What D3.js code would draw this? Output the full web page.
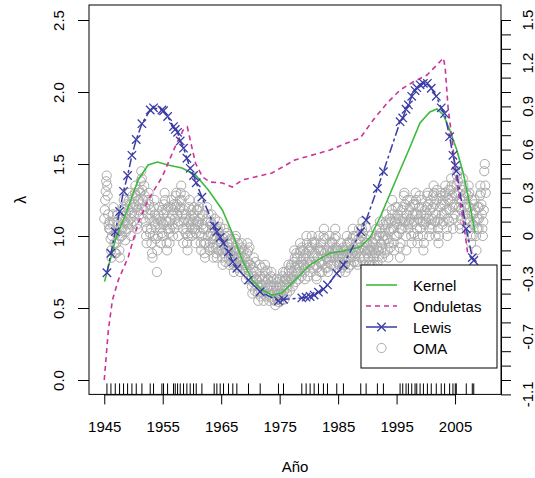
<!DOCTYPE html>
<html><head><meta charset="utf-8">
<script src="https://cdn.jsdelivr.net/npm/d3@7"></script>
<style>body{margin:0;background:#fff}svg{display:block}text{font-family:"Liberation Sans",Arial,Helvetica,sans-serif;fill:#000}</style>
</head><body><svg id="c" width="535" height="478"></svg>
<script>
// ---- data ----
const kernelYears  = [1945.05,1946.9,1949.1,1950.8,1952.5,1954.1,1955.9,1958.3,1960.6,1962.8,1965.2,1966.9,1968.6,1970.3,1972.0,1973.7,1975.4,1977.6,1980.2,1983.6,1985.9,1988.8,1990.5,1992.2,1995.1,1997.3,1999.0,2000.7,2001.9,2003.0,2004.1,2005.3,2006.4,2007.6,2008.4];
const kernelValues = [0.683,0.972,1.201,1.389,1.493,1.514,1.493,1.472,1.424,1.319,1.181,1.021,0.833,0.694,0.625,0.590,0.604,0.694,0.80,0.882,0.896,0.924,0.993,1.132,1.410,1.618,1.785,1.861,1.882,1.840,1.736,1.597,1.438,1.201,1.028];

const waveletYears  = [1945.0,1945.7,1946.4,1947.4,1949.1,1950.8,1952.5,1954.9,1957.1,1958.5,1959.2,1959.7,1960.6,1961.8,1963.1,1965.2,1966.9,1968.6,1970.8,1973.7,1977.6,1983.6,1986.5,1988.8,1991.0,1993.4,1995.6,1997.8,2000.2,2001.9,2003.0,2003.3,2003.8,2004.5,2005.0,2005.5,2006.4,2007.2];
const waveletValues = [0.0,0.347,0.556,0.694,0.854,1.090,1.250,1.410,1.618,1.736,1.757,1.667,1.507,1.410,1.375,1.368,1.340,1.389,1.410,1.438,1.528,1.597,1.646,1.681,1.806,1.924,2.014,2.069,2.118,2.188,2.236,2.174,1.896,1.667,1.479,1.319,1.111,0.868];

// event times (rug) and Lewis estimate at each
const eventTimes = [1945.46,1946.14,1946.88,1947.62,1948.30,1948.99,1949.73,1950.47,1951.44,1952.86,1953.43,1954.86,1955.14,1955.83,1956.85,1957.14,1957.54,1957.99,1958.56,1959.13,1959.70,1960.27,1960.73,1961.70,1963.80,1964.26,1964.83,1965.40,1966.25,1966.99,1967.68,1969.67,1971.67,1974.80,1975.66,1978.79,1979.53,1980.21,1980.90,1981.64,1982.49,1983.18,1984.77,1985.91,1988.87,1989.79,1991.72,1992.75,1995.60,1996.05,1996.62,1997.02,1997.59,1998.16,1998.45,1999.02,1999.59,2000.27,2000.93,2001.79,2002.64,2003.21,2004.07,2004.64,2005.04,2005.21,2006.92,2007.95,2008.2];
const lewisValues = [0.745,0.88,1.03,1.17,1.31,1.42,1.56,1.67,1.78,1.875,1.89,1.875,1.87,1.83,1.76,1.74,1.72,1.66,1.61,1.54,1.47,1.42,1.37,1.27,1.07,1.03,0.99,0.95,0.89,0.82,0.776,0.694,0.613,0.55,0.56,0.57,0.575,0.58,0.59,0.61,0.63,0.66,0.74,0.80,1.03,1.11,1.33,1.447,1.794,1.82,1.88,1.91,1.97,2.01,2.03,2.05,2.06,2.06,2.026,1.97,1.89,1.85,1.69,1.56,1.49,1.45,1.05,0.85,0.83];

// OMA monthly index, one row per year starting 1945
const omaStartYear = 1945;
const omaMonthly = [
[0.12,0.18,0.25,0.31,0.38,0.42,0.35,0.28,0.15,0.08,0.05,0.10],
[0.05,-0.02,-0.10,-0.15,0.00,0.08,0.15,0.20,0.10,-0.05,-0.12,0.02],
[-0.12,-0.05,0.02,0.10,0.15,0.08,-0.02,-0.10,-0.15,0.00,0.05,0.12],
[0.00,0.05,0.12,0.20,0.25,0.18,0.10,-0.03,0.03,0.15,0.22,0.08],
[0.05,0.10,0.18,0.25,0.30,0.22,0.12,0.00,0.08,0.16,0.28,0.20],
[0.10,0.15,0.22,0.30,0.35,0.28,0.20,0.08,0.05,0.18,0.25,0.32],
[0.15,0.22,0.30,0.38,0.45,0.40,0.32,0.25,0.12,0.18,0.35,0.28],
[0.20,0.10,0.00,-0.05,0.05,0.15,0.25,0.30,0.22,0.12,0.02,0.18],
[0.05,-0.05,-0.12,-0.15,0.00,0.10,0.20,0.25,0.15,0.08,-0.02,0.12],
[-0.25,-0.10,0.00,0.08,0.15,0.20,0.12,0.05,-0.05,0.10,0.18,0.02],
[0.00,0.08,0.15,0.22,0.30,0.25,0.18,0.10,-0.05,-0.10,0.05,0.20],
[0.10,0.02,-0.05,0.05,0.12,0.20,0.25,0.15,0.08,0.00,0.18,0.22],
[0.05,0.12,0.20,0.28,0.30,0.22,0.15,0.08,0.00,0.10,0.18,0.25],
[0.20,0.30,0.35,0.25,0.15,0.05,-0.05,0.10,0.18,0.28,0.12,0.02],
[0.15,0.05,-0.05,-0.10,0.00,0.10,0.20,0.25,0.12,0.02,0.08,0.18],
[0.00,0.05,0.10,0.15,0.20,0.12,0.05,-0.05,0.02,0.10,0.18,0.08],
[0.10,0.18,0.25,0.20,0.12,0.02,-0.05,-0.10,0.00,0.08,0.15,0.05],
[0.05,-0.05,-0.12,-0.15,-0.05,0.05,0.12,0.20,0.10,0.00,0.15,-0.08],
[-0.10,-0.05,0.02,0.10,0.15,0.08,0.00,-0.08,-0.15,-0.02,0.05,0.12],
[0.00,-0.08,-0.12,-0.15,-0.05,0.05,0.10,0.02,-0.10,-0.02,0.06,-0.04],
[-0.05,-0.10,-0.15,-0.20,-0.12,-0.02,0.05,0.00,-0.08,-0.18,-0.10,0.02],
[-0.10,-0.05,0.00,-0.08,-0.15,-0.20,-0.12,-0.02,-0.10,-0.18,-0.05,-0.14],
[-0.15,-0.20,-0.25,-0.18,-0.10,-0.02,0.00,-0.08,-0.12,-0.22,-0.05,-0.15],
[-0.10,-0.15,-0.20,-0.25,-0.18,-0.12,-0.05,-0.08,-0.15,-0.22,-0.10,-0.20],
[-0.15,-0.20,-0.25,-0.30,-0.22,-0.12,-0.05,-0.10,-0.18,-0.28,-0.08,-0.20],
[-0.20,-0.25,-0.30,-0.35,-0.40,-0.32,-0.22,-0.15,-0.28,-0.38,-0.18,-0.30],
[-0.25,-0.30,-0.35,-0.40,-0.45,-0.38,-0.30,-0.20,-0.28,-0.42,-0.34,-0.22],
[-0.30,-0.35,-0.40,-0.45,-0.38,-0.28,-0.20,-0.25,-0.32,-0.42,-0.36,-0.24],
[-0.30,-0.35,-0.40,-0.45,-0.42,-0.35,-0.28,-0.25,-0.32,-0.38,-0.44,-0.30],
[-0.35,-0.40,-0.45,-0.48,-0.42,-0.35,-0.30,-0.38,-0.44,-0.32,-0.40,-0.46],
[-0.30,-0.35,-0.40,-0.45,-0.42,-0.35,-0.28,-0.25,-0.32,-0.38,-0.44,-0.30],
[-0.25,-0.30,-0.35,-0.40,-0.36,-0.28,-0.20,-0.24,-0.32,-0.38,-0.22,-0.30],
[-0.20,-0.25,-0.30,-0.35,-0.28,-0.18,-0.10,-0.15,-0.22,-0.32,-0.12,-0.26],
[-0.15,-0.20,-0.25,-0.30,-0.22,-0.12,-0.05,-0.10,-0.18,-0.28,-0.08,-0.20],
[-0.10,-0.15,-0.20,-0.25,-0.30,-0.22,-0.12,0.00,-0.05,-0.18,-0.28,-0.08],
[-0.10,-0.15,-0.20,-0.25,-0.18,-0.08,0.00,-0.05,-0.12,-0.22,-0.15,-0.04],
[-0.05,-0.12,-0.20,-0.28,-0.30,-0.22,-0.15,-0.08,0.00,-0.10,-0.18,-0.25],
[-0.05,-0.10,-0.18,-0.25,-0.20,-0.10,0.00,0.05,-0.02,-0.12,-0.22,-0.15],
[-0.10,-0.15,-0.22,-0.25,-0.18,-0.08,0.00,-0.05,-0.12,-0.20,-0.15,-0.04],
[-0.05,-0.10,-0.15,-0.20,-0.12,-0.02,0.05,0.00,-0.08,-0.18,-0.10,-0.14],
[-0.10,-0.15,-0.20,-0.25,-0.18,-0.10,-0.05,-0.12,-0.22,-0.15,-0.08,-0.20],
[-0.10,-0.15,-0.20,-0.25,-0.18,-0.08,0.00,-0.05,-0.12,-0.22,-0.15,-0.04],
[-0.05,-0.10,-0.15,-0.20,-0.12,-0.02,0.05,0.00,-0.08,-0.18,-0.10,-0.14],
[0.00,-0.05,-0.12,-0.18,-0.20,-0.10,-0.02,0.05,-0.08,-0.15,-0.04,-0.12],
[0.00,0.05,0.10,0.02,-0.08,-0.15,-0.20,-0.10,-0.02,0.06,-0.05,-0.12],
[-0.05,-0.10,-0.15,-0.20,-0.25,-0.18,-0.10,0.00,-0.08,-0.20,-0.12,-0.04],
[-0.05,-0.10,-0.15,-0.20,-0.12,-0.02,0.05,0.00,-0.08,-0.18,-0.10,-0.14],
[0.00,0.05,0.10,0.02,-0.05,-0.10,-0.15,-0.08,0.00,0.08,-0.03,-0.12],
[0.00,0.05,0.10,0.15,0.08,-0.02,-0.10,-0.15,-0.05,0.03,0.12,-0.08],
[0.05,0.10,0.18,0.25,0.15,0.05,-0.05,-0.10,0.00,0.10,0.20,0.12],
[0.00,0.08,0.15,0.20,0.12,0.02,-0.08,-0.15,-0.05,0.05,0.10,0.18],
[0.05,0.12,0.20,0.28,0.30,0.22,0.10,0.00,-0.10,0.15,0.25,0.08],
[0.05,0.10,0.18,0.25,0.20,0.12,0.00,-0.05,0.08,0.15,0.22,0.02],
[0.10,0.15,0.22,0.30,0.25,0.15,0.05,-0.05,0.00,0.12,0.20,0.28],
[0.05,0.10,0.15,0.25,0.20,0.10,0.00,-0.10,-0.05,0.08,0.18,0.12],
[0.10,0.15,0.20,0.28,0.30,0.22,0.12,0.00,0.05,0.18,0.25,0.08],
[0.05,0.12,0.20,0.28,0.35,0.30,0.22,0.10,0.00,0.15,0.25,0.32],
[0.10,0.05,-0.05,0.00,0.12,0.20,0.28,0.30,0.22,0.15,0.08,0.25],
[0.10,0.15,0.22,0.30,0.35,0.28,0.18,0.05,0.00,0.12,0.25,0.32],
[0.10,0.18,0.25,0.32,0.40,0.35,0.28,0.20,0.05,0.12,0.22,0.30],
[0.15,0.20,0.28,0.35,0.42,0.45,0.38,0.30,0.20,0.08,0.05,0.25],
[0.12,0.18,0.25,0.32,0.40,0.35,0.28,0.20,0.10,0.15,0.30,0.22],
[0.05,0.12,0.20,0.28,0.35,0.30,0.20,0.10,0.00,-0.05,0.15,0.25],
[0.00,0.08,0.15,0.22,0.25,0.18,0.10,0.00,-0.10,0.05,0.12,0.20],
[0.05,0.12,0.20,0.28,0.35,0.30,0.22,0.15,0.05,0.00,0.10,0.18],
[0.45,0.50,0.35,0.30]
];

const xTicks = [1945,1955,1965,1975,1985,1995,2005];
const leftTicks = [0.0,0.5,1.0,1.5,2.0,2.5];
const rightLabelValues = [-1.1,-0.7,-0.3,0,0.3,0.6,0.9,1.2,1.5];
const legendLabels = ["Kernel","Onduletas","Lewis","OMA"];

// ---- build ----
const omaPoints = [];
omaMonthly.forEach((row,i)=>row.forEach((v,m)=>omaPoints.push({t:omaStartYear+i+m/12, v})));

const W=535,H=478, L=89, R=501, T=5, B=394.4;
const svg=d3.select("#c");
const tExt=d3.extent(omaPoints,d=>d.t), pad=(tExt[1]-tExt[0])*0.04;
const x=d3.scaleLinear().domain([tExt[0]-pad,tExt[1]+pad]).range([L,R]);
const yLim=[0,2.5], yp=(yLim[1]-yLim[0])*0.04;
const y=d3.scaleLinear().domain([yLim[0]-yp,yLim[1]+yp]).range([B,T+0.6]);
const y2=d3.scaleLinear().domain([-1.1,1.6]).range([B,T+0.6]);

const cols={kernel:"#3dba3d",wave:"#cc3399",lewis:"#3b3ba6",oma:"#ababab"};

// OMA points
svg.append("g").selectAll("circle").data(omaPoints).join("circle")
  .attr("cx",d=>x(d.t)).attr("cy",d=>y2(d.v)).attr("r",4.6)
  .attr("fill","none").attr("stroke",cols.oma).attr("stroke-width",1);

const line=d3.line();
svg.append("path").attr("d",line(kernelYears.map((t,i)=>[x(t),y(kernelValues[i])])))
  .attr("fill","none").attr("stroke",cols.kernel).attr("stroke-width",1.6);
svg.append("path").attr("d",line(waveletYears.map((t,i)=>[x(t),y(waveletValues[i])])))
  .attr("fill","none").attr("stroke",cols.wave).attr("stroke-width",1.6).attr("stroke-dasharray","5,4");
svg.append("path").attr("d",line(eventTimes.map((t,i)=>[x(t),y(lewisValues[i])])))
  .attr("fill","none").attr("stroke",cols.lewis).attr("stroke-width",1.5).attr("stroke-dasharray","9,3,3,3");
const cross=(g,cx,cy,s)=>g.append("path").attr("d",`M${cx-s},${cy-s}L${cx+s},${cy+s}M${cx-s},${cy+s}L${cx+s},${cy-s}`)
  .attr("stroke",cols.lewis).attr("stroke-width",1.3).attr("fill","none");
const lg=svg.append("g");
eventTimes.forEach((t,i)=>cross(lg,x(t),y(lewisValues[i]),4.2));

// rug
svg.append("g").selectAll("line").data(eventTimes).join("line")
  .attr("x1",d=>x(d)).attr("x2",d=>x(d)).attr("y1",B).attr("y2",B-11)
  .attr("stroke","#000").attr("stroke-width",1);

// frame
svg.append("rect").attr("x",L).attr("y",T).attr("width",R-L).attr("height",B-T)
  .attr("fill","none").attr("stroke","#000").attr("stroke-width",1);

// x axis
const gx=svg.append("g").attr("transform",`translate(0,${B})`)
  .call(d3.axisBottom(x).tickValues(xTicks).tickFormat(d3.format("d")).tickSize(10).tickPadding(20));
gx.select(".domain").attr("d",`M${x(xTicks[0])},0.5H${x(xTicks[xTicks.length-1])}`);
gx.selectAll("text").attr("font-size",15).attr("font-family","Liberation Sans, Arial, sans-serif").attr("dy","0");
gx.selectAll("text").attr("y",38);

// left axis
const gy=svg.append("g").attr("transform",`translate(${L},0)`)
  .call(d3.axisLeft(y).tickValues(leftTicks).tickFormat(d3.format(".1f")).tickSize(11));
gy.select(".domain").remove();
gy.selectAll("text").attr("font-size",15).attr("font-family","Liberation Sans, Arial, sans-serif")
  .attr("x",0).attr("dy",0).attr("text-anchor","middle").attr("transform","translate(-25,0) rotate(-90)");

// right axis
const rightTicks=d3.range(27).map(i=>+(-1.1+i*0.1).toFixed(1));
const gr=svg.append("g").attr("transform",`translate(${R},0)`)
  .call(d3.axisRight(y2).tickValues(rightTicks).tickFormat("").tickSize(10));
gr.select(".domain").attr("d",`M0.5,${y2(-1.1)}V${y2(1.5)}`);
svg.append("g").selectAll("text").data(rightLabelValues).join("text")
  .attr("transform",d=>`translate(${R+32},${y2(d)}) rotate(-90)`)
  .attr("text-anchor","middle").attr("font-size",15).text(d=>d===0?"0":String(d));

// titles
svg.append("text").attr("x",(L+R)/2).attr("y",472).attr("text-anchor","middle").attr("font-size",15).text("Año");
svg.append("text").attr("transform",`translate(26,${(T+B)/2}) rotate(-90)`).attr("text-anchor","middle").attr("font-size",16).text("λ");

// legend
const lx=361, ly=265, lw=136, lh=103;
const leg=svg.append("g");
leg.append("rect").attr("x",lx).attr("y",ly).attr("width",lw).attr("height",lh).attr("fill","#fff").attr("stroke","#000");
const rows=[20,41,62,83];
legendLabels.forEach((lab,i)=>{
  const yy=ly+rows[i];
  if(i===0) leg.append("line").attr("x1",lx+5).attr("x2",lx+36).attr("y1",yy).attr("y2",yy).attr("stroke",cols.kernel).attr("stroke-width",1.6);
  if(i===1) leg.append("line").attr("x1",lx+5).attr("x2",lx+36).attr("y1",yy).attr("y2",yy).attr("stroke",cols.wave).attr("stroke-width",1.6).attr("stroke-dasharray","5,4");
  if(i===2){ leg.append("line").attr("x1",lx+5).attr("x2",lx+36).attr("y1",yy).attr("y2",yy).attr("stroke",cols.lewis).attr("stroke-width",1.5); cross(leg,lx+20.5,yy,4.2); }
  if(i===3) leg.append("circle").attr("cx",lx+20.5).attr("cy",yy).attr("r",4.6).attr("fill","none").attr("stroke",cols.oma);
  leg.append("text").attr("x",lx+52).attr("y",yy+5.5).attr("font-size",15).text(lab);
});
svg.selectAll(".tick line").attr("stroke","#000");
svg.selectAll(".domain").attr("stroke","#000");
</script></body></html>
